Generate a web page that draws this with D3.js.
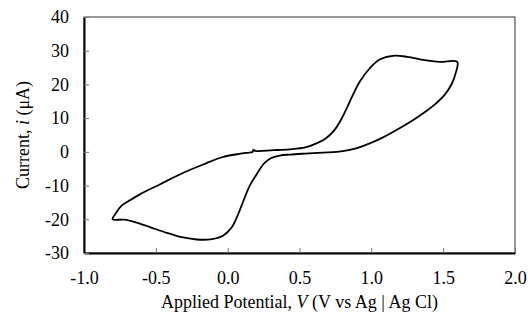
<!DOCTYPE html>
<html>
<head>
<meta charset="utf-8">
<script src="https://cdn.jsdelivr.net/npm/d3@7"></script>
<style>
  body { margin: 0; background: #fff; }
  text { font-family: "Liberation Serif", "Times New Roman", serif; fill: #000; }
</style>
</head>
<body>
<div id="chart"></div>
<script>
// cyclic voltammogram, potential (V) and current (uA)
const potential = [
  0.178, 0.192, 0.317, 0.433, 0.540, 0.618, 0.680, 0.740, 0.790, 0.835, 0.875, 0.919, 0.989, 1.058, 1.151, 1.250, 1.360, 1.476, 1.598,
  1.588, 1.560, 1.510, 1.440, 1.383, 1.300, 1.175, 1.081, 0.989, 0.900, 0.850, 0.760, 0.664, 0.540, 0.433, 0.363, 0.300, 0.250,
  0.200, 0.154, 0.110, 0.070, 0.030, -0.030, -0.110, -0.216, -0.309, -0.425, -0.541, -0.640, -0.720, -0.801,
  -0.775, -0.740, -0.700, -0.611, -0.470, -0.309, -0.150, -0.040, 0.080, 0.150, 0.172, 0.178
];
const current = [
  0.75, 0.30, 0.50, 0.75, 1.3, 2.5, 3.9, 6.3, 9.6, 13.5, 17.2, 20.8, 24.8, 27.4, 28.5, 28.2, 27.3, 26.7, 26.7,
  23.5, 20.2, 16.9, 14.0, 12.1, 9.7, 6.5, 4.3, 2.5, 1.1, 0.6, 0.0, -0.2, -0.5, -0.8, -1.1, -1.9, -3.6,
  -6.8, -10.0, -14.5, -18.8, -22.3, -24.8, -25.9, -26.0, -25.4, -24.0, -22.3, -20.9, -20.1, -20.0,
  -18.0, -16.0, -14.9, -12.6, -9.6, -6.2, -3.4, -1.6, -0.6, -0.2, -0.05, 0.75
];
const xTicks = [-1.0, -0.5, 0.0, 0.5, 1.0, 1.5, 2.0];
const yTicks = [-30, -20, -10, 0, 10, 20, 30, 40];

const width = 528, height = 323;
const margin = { top: 17, right: 13, bottom: 70, left: 84 };
const innerW = width - margin.left - margin.right;
const innerH = height - margin.top - margin.bottom;

const svg = d3.select("#chart").append("svg")
  .attr("width", width)
  .attr("height", height);

const g = svg.append("g")
  .attr("transform", "translate(" + margin.left + "," + margin.top + ")");

const x = d3.scaleLinear().domain([-1, 2]).range([0, innerW]);
const y = d3.scaleLinear().domain([-30, 40]).range([innerH, 0]);

// frame: top and right thin
g.append("rect")
  .attr("x", 0).attr("y", 0)
  .attr("width", innerW).attr("height", innerH)
  .attr("fill", "none")
  .attr("stroke", "#333")
  .attr("stroke-width", 1);

// x axis, ticks pointing in
const xAxis = g.append("g")
  .attr("transform", "translate(0," + innerH + ")")
  .call(d3.axisBottom(x).tickValues(xTicks).tickSizeInner(-5).tickSizeOuter(0).tickPadding(18));
xAxis.select(".domain").attr("stroke", "#000").attr("stroke-width", 2);
xAxis.selectAll(".tick line").attr("stroke", "#777");
xAxis.selectAll(".tick text").attr("font-size", 18)
  .text(d => d3.format(".1f")(d).replace("\u2212", "-"));

// y axis
const yAxis = g.append("g")
  .call(d3.axisLeft(y).tickValues(yTicks).tickSizeInner(-5).tickSizeOuter(0).tickPadding(15));
yAxis.select(".domain").attr("stroke", "#000").attr("stroke-width", 2);
yAxis.selectAll(".tick line").attr("stroke", "#777");
yAxis.selectAll(".tick text").attr("font-size", 18)
  .text(d => String(d).replace("\u2212", "-"));

// curve
const pts = potential.map((v, i) => [v, current[i]]);
g.append("path")
  .datum(pts)
  .attr("fill", "none")
  .attr("stroke", "#000")
  .attr("stroke-width", 1.8)
  .attr("stroke-linejoin", "round")
  .attr("d", d3.line().x(d => x(d[0])).y(d => y(d[1])).curve(d3.curveCatmullRom.alpha(0.5)));

// axis titles
const xt = svg.append("text")
  .attr("x", margin.left + innerW / 2)
  .attr("y", 308)
  .attr("text-anchor", "middle")
  .attr("font-size", 18);
xt.append("tspan").text("Applied Potential, ");
xt.append("tspan").attr("font-style", "italic").text("V");
xt.append("tspan").text("  (V vs Ag | Ag Cl)");

const yt = svg.append("text")
  .attr("transform", "translate(29," + (margin.top + innerH / 2) + ") rotate(-90)")
  .attr("text-anchor", "middle")
  .attr("font-size", 18);
yt.append("tspan").text("Current, ");
yt.append("tspan").attr("font-style", "italic").text("i");
yt.append("tspan").text(" (\u03BCA)");
</script>
</body>
</html>
